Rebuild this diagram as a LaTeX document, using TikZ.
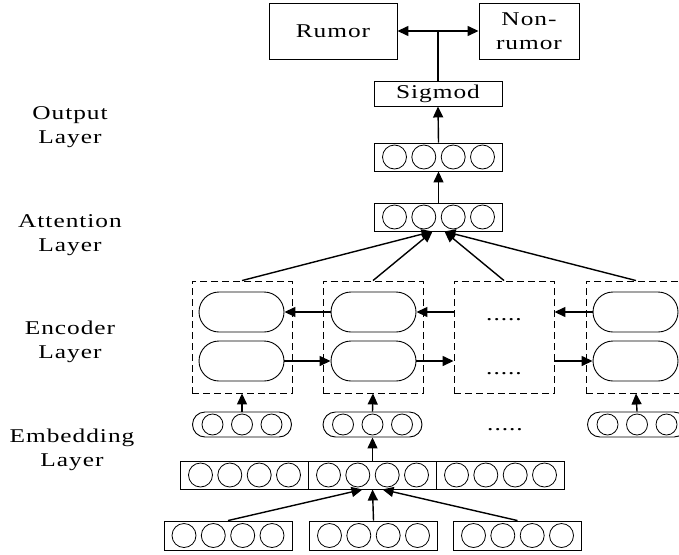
\documentclass[tikz,border=0pt]{standalone}
\usepackage{fontspec}
\setmainfont{Liberation Serif}[FakeStretch=1.3, LetterSpace=5]
\usetikzlibrary{arrows.meta,shapes.misc}

\begin{document}
\begin{tikzpicture}[x=1pt, y=-1pt,
  font=\fontsize{19.5pt}{24.5pt}\selectfont,
  arr/.style={-{Triangle[length=11pt,width=10pt]}, line width=1.4pt},
  txtbox/.style={draw, line width=0.9pt, inner sep=0pt, align=center},
  vecbox/.style={draw, line width=0.9pt, inner sep=0pt, minimum width=128pt, minimum height=28pt},
  unit/.style={draw, circle, line width=0.8pt, inner sep=0pt, minimum size=24pt},
  embunit/.style={draw, circle, line width=0.8pt, inner sep=0pt, minimum size=21pt},
  embbox/.style={draw, rounded rectangle, line width=0.9pt, inner sep=0pt, minimum width=99pt, minimum height=25pt},
  cell/.style={draw, rounded rectangle, line width=0.9pt, inner sep=0pt, minimum width=85pt, minimum height=40pt},
  group/.style={draw, line width=0.9pt, dash pattern=on 7pt off 4pt, inner sep=0pt, minimum width=100pt, minimum height=112pt},
  layer/.style={align=center},
  dots/.style={anchor=base},
]
\useasboundingbox (0,0) rectangle (679,554);
\clip (0,0) rectangle (679,554);

%\draw [lightgray, dashed](0,0) grid[step=50] (679,554);

% layer names
\node [layer] (Lout) at (70,127) {Output\\Layer};
\node [layer] (Latt) at (70,235) {Attention\\Layer};
\node [layer] (Lenc) at (70,342) {Encoder\\Layer};
\node [layer] (Lemb) at (72,450) {Embedding\\Layer};

% classes
\node [txtbox, minimum width=128pt, minimum height=56pt] (rumor)    at (333,31) {Rumor};
\node [txtbox, minimum width=100pt, minimum height=56pt] (nonrumor) at (529,31) {Non-\\rumor};
\node [txtbox, minimum width=128pt, minimum height=25pt] (sig)      at (438,93.5) {Sigmod};

% output and attention vectors
\node [vecbox] (out) at (438.5,157) {};
\node [vecbox] (att) at (438.5,217) {};
\foreach \v in {out,att}
  \foreach \dx in {-44,-14.7,14.7,44}
    \node [unit] at ([xshift=\dx pt]\v.center) {};

% encoder groups
\node [group] (g1) at (242,337) {};
\node [group] (g2) at (373,337) {};
\node [group] (g3) at (504,337) {};
\node [group] (g4) at (636,337) {};

\node [cell] (e1u) at (241.5,312) {};
\node [cell] (e1d) at (241.5,361) {};
\node [cell] (e2u) at (373.5,312) {};
\node [cell] (e2d) at (373.5,361) {};
\node [cell] (e4u) at (635.5,312) {};
\node [cell] (e4d) at (635.5,361) {};

\node [dots] (d3u) at (504,320) {.....};
\node [dots] (d3d) at (504,374) {.....};

% embeddings
\node [embbox] (m1) at (242,424.5) {};
\node [embbox] (m2) at (372.5,424.5) {};
\node [embbox] (m4) at (637,424.5) {};
\foreach \m in {m1,m2,m4}
  \foreach \dx in {-29.5,0,29.5}
    \node [embunit] at ([xshift=\dx pt]\m.center) {};
\node [dots] (d3m) at (505,430) {.....};

% concatenated context
\node [vecbox] (c1) at (244.5,475) {};
\node [vecbox] (c2) at (372.5,475) {};
\node [vecbox] (c3) at (500.5,475) {};

% word inputs
\node [vecbox, minimum height=29pt] (w1) at (228,535.5) {};
\node [vecbox, minimum height=29pt] (w2) at (373.5,535.5) {};
\node [vecbox, minimum height=29pt] (w3) at (517.5,535.5) {};

\foreach \v in {c1,c2,c3,w1,w2,w3}
  \foreach \dx in {-44,-14.7,14.7,44}
    \node [unit] at ([xshift=\dx pt]\v.center) {};

% connections
\coordinate (split) at (sig.north |- rumor.east);
\draw [line width=1.4pt] (sig.north) -- (split);
\draw [arr] (split) -- (rumor.east);
\draw [arr] (split) -- (nonrumor.west);
\draw [arr] (out.north) -- (sig.south);
\draw [arr] (att.north) -- (out.south);

\draw [arr] (g1.north) -- ([xshift=-6pt]att.south);
\draw [arr] (g2.north) -- ([xshift=-6pt]att.south);
\draw [arr] (g3.north) -- ([xshift=6pt]att.south);
\draw [arr] (g4.north) -- ([xshift=6pt]att.south);

% backward pass
\draw [arr] (e2u.west) -- (e1u.east);
\draw [arr] (g3.west |- e2u) -- (e2u.east);
\draw [arr] (e4u.west) -- (g3.east |- e4u);
% forward pass
\draw [arr] (e1d.east) -- (e2d.west);
\draw [arr] (e2d.east) -- (g3.west |- e2d);
\draw [arr] (g3.east |- e4d) -- (e4d.west);

\draw [arr] (m1.north) -- (g1.south);
\draw [arr] (m2.north) -- (g2.south);
\draw [arr] (m4.north) -- (g4.south);

\draw [arr] (c2.north) -- (m2.south);
\draw [arr] (w1.north) -- ([xshift=-10pt]c2.south);
\draw [arr] (w2.north) -- (c2.south);
\draw [arr] (w3.north) -- ([xshift=10pt]c2.south);

\end{tikzpicture}
\end{document}
